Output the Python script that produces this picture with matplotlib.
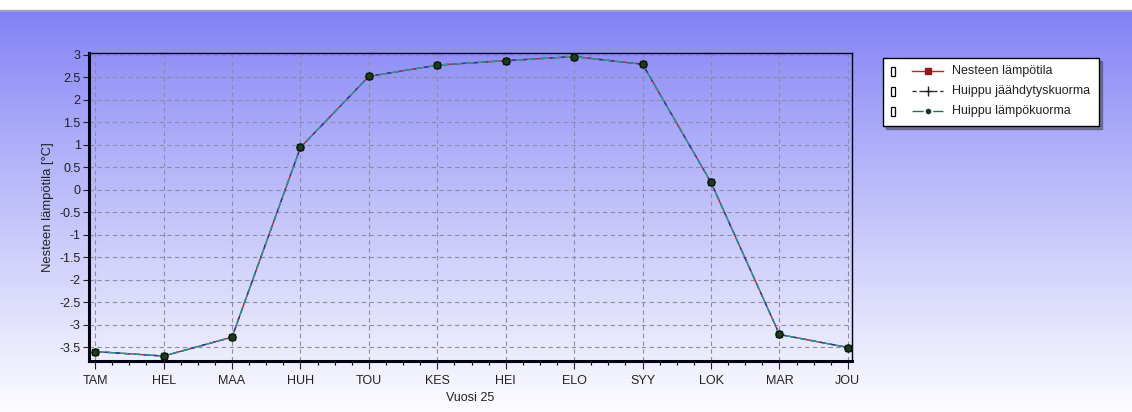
import numpy as np
import matplotlib
matplotlib.use("Agg")
import matplotlib.pyplot as plt
from matplotlib.patches import Rectangle
from matplotlib.lines import Line2D

months = ["TAM", "HEL", "MAA", "HUH", "TOU", "KES", "HEI", "ELO", "SYY", "LOK", "MAR", "JOU"]
fluid_temp = [-3.60, -3.70, -3.28, 0.94, 2.52, 2.77, 2.87, 2.96, 2.79, 0.16, -3.22, -3.51]
peak_cooling = [-3.60, -3.70, -3.28, 0.94, 2.52, 2.77, 2.87, 2.96, 2.79, 0.16, -3.22, -3.51]
peak_heating = [-3.60, -3.70, -3.28, 0.94, 2.52, 2.77, 2.87, 2.96, 2.79, 0.16, -3.22, -3.51]
series_names = ["Nesteen lämpötila", "Huippu jäähdytyskuorma", "Huippu lämpökuorma"]
yticks = [3, 2.5, 2, 1.5, 1, 0.5, 0, -0.5, -1, -1.5, -2, -2.5, -3, -3.5]

plt.rcParams['font.family'] = ['Liberation Sans', 'DejaVu Sans']

W, H = 1132, 412
fig = plt.figure(figsize=(W / 100, H / 100), dpi=100)

# background gradient
bg = fig.add_axes([0, 0, 1, 1], zorder=-10)
bg.set_xlim(0, W)
bg.set_ylim(H, 0)
bg.axis('off')
n = 256
t = np.linspace(0, 1, n)[:, None]
top = np.array([128, 128, 246]) / 255
bot = np.array([252, 252, 255]) / 255
grad = top + (bot - top) * t ** 0.9
img = np.repeat(grad[:, None, :], 2, axis=1)
bg.imshow(img, extent=[0, W, H, 10], aspect='auto', interpolation='bilinear')
bg.add_patch(Rectangle((0, 0), W, 10, color='white'))
bg.plot([0, W], [10, 10], color='#a0a0b8', lw=1)

# main axes
x0, x1, y0, y1 = 89, 852, 53, 361
ax = fig.add_axes([x0 / W, 1 - y1 / H, (x1 - x0) / W, (y1 - y0) / H])
ax.patch.set_alpha(0)
x = np.arange(len(months))
ax.plot(x, fluid_temp, color='#c02020', lw=1, marker='s', ms=4, mfc='#1a3a1a', mec='#1a3a1a', zorder=3)
ax.plot(x, peak_cooling, color='#2030c0', lw=1, ls=(0, (4, 3)), marker='+', ms=6, mec='#102010', zorder=4)
ax.plot(x, peak_heating, color='#20a090', lw=1, ls=(0, (6, 3)), marker='o', ms=5, mfc='#1e3a1e', mec='#0a1a0a', zorder=5)

ax.set_xlim(-0.09, 11.06)
ax.set_ylim(-3.81, 3.04)
ax.set_xticks(x)
ax.set_xticklabels(months)
ax.set_xticks(np.arange(-0.0, 11.01, 0.25), minor=True)
ax.set_yticks(yticks)
ax.set_yticklabels([("%g" % v) for v in yticks])
ax.tick_params(axis='both', labelsize=9, colors='#222222', length=4, width=0.8, direction='out')
ax.tick_params(axis='x', which='major', length=6, pad=4)
ax.tick_params(axis='x', which='minor', length=3, width=0.8)
ax.tick_params(axis='y', pad=2)
ax.grid(True, which='major', color='#8c8ca4', ls=(0, (4, 3)), lw=0.8)
for s in ['left', 'bottom']:
    ax.spines[s].set_linewidth(2.2)
for s in ['top', 'right']:
    ax.spines[s].set_linewidth(1.0)
for s in ax.spines.values():
    s.set_color('#000010')
ax.set_ylabel("Nesteen lämpötila [°C]", fontsize=9.4, color='#222222', labelpad=4)
ax.set_xlabel("Vuosi 25", fontsize=9, color='#222222', labelpad=4)

# legend drawn manually in pixel coordinates
bg.add_patch(Rectangle((886, 61), 216, 68, color='#505060', alpha=0.6, zorder=1))
bg.add_patch(Rectangle((883, 58), 216, 68, facecolor='white', edgecolor='black', lw=1, zorder=2))
rows = [71, 91, 111]
styles = [
    dict(color='#c02020', ls='-', marker='s', ms=4, mfc='#901818', mec='#901818'),
    dict(color='#303030', ls=(0, (3, 2)), marker='+', ms=7, mec='#202020'),
    dict(color='#207050', ls=(0, (8, 3, 1, 3)), marker='o', ms=3, mfc='#103a20', mec='#103a20'),
]
for yy, name, st in zip(rows, series_names, styles):
    bg.add_patch(Rectangle((891, yy - 4.5), 4, 9, facecolor='white', edgecolor='black', lw=0.9, zorder=3))
    bg.add_line(Line2D([912, 943], [yy, yy], lw=1, zorder=3, **{k: v for k, v in st.items() if k not in ('marker', 'ms', 'mfc', 'mec')}))
    bg.add_line(Line2D([927.5], [yy], ls='none', zorder=4, **{k: v for k, v in st.items() if k in ('marker', 'ms', 'mfc', 'mec')}))
    bg.text(952, yy, name, fontsize=9, color='#222222', va='center', ha='left', zorder=4)

fig.savefig("out.png", dpi=100)
